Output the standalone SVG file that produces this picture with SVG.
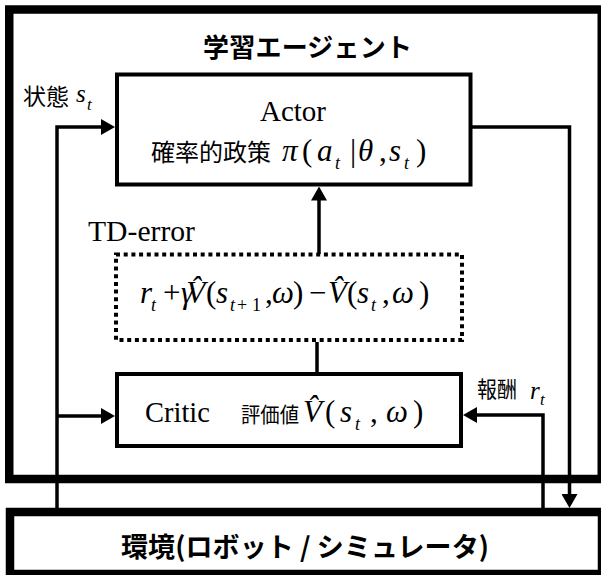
<svg xmlns="http://www.w3.org/2000/svg" width="601" height="575" viewBox="0 0 601 575">
<defs>
<marker id="arr" markerUnits="userSpaceOnUse" markerWidth="14" markerHeight="16" viewBox="0 0 14 16" refX="10" refY="8" orient="auto"><path d="M0,0 L14,8 L0,16 Z" fill="#000"/></marker>
</defs>
<style>
.frame{fill:none;stroke:#000;stroke-width:8.5}
.box{fill:#fff;stroke:#000;stroke-width:4}
.dot{fill:#fff;stroke:#000;stroke-width:4;stroke-dasharray:4 3.7}
.conn{fill:none;stroke:#000;stroke-width:3.5}
.jp{font-family:"Noto Sans CJK JP","Noto Sans",sans-serif;fill:#000}
.jpb{font-family:"Noto Sans CJK JP","Noto Sans",sans-serif;font-weight:700;fill:#000}
.tm{font-family:"Liberation Serif","Times New Roman",serif;fill:#000}
.it{font-style:italic}
.sub{font-size:18px;font-style:italic}
.subu{font-size:18px;font-style:normal}
</style>
<rect width="601" height="575" fill="#fff"/>
<g id="agent">
<rect class="frame" x="9.25" y="9.5" width="592.5" height="469.5"/>
<text class="jpb" x="203" y="57" font-size="26" textLength="209" lengthAdjust="spacing">学習エージェント</text>
</g>
<g id="connectors">
<polyline class="conn" points="57,508 57,127 111,127" marker-end="url(#arr)"/>
<line class="conn" x1="57" y1="416" x2="111" y2="416" marker-end="url(#arr)"/>
<polyline class="conn" points="472,127 569.5,127 569.5,504" marker-end="url(#arr)"/>
<line class="conn" x1="319" y1="254" x2="319" y2="190.5" marker-end="url(#arr)"/>
<line class="conn" x1="317" y1="342" x2="317" y2="373"/>
<polyline class="conn" points="543,508 543,415 467,415" marker-end="url(#arr)"/>
</g>
<g id="environment">
<rect class="frame" x="10" y="512" width="592" height="62" fill="#fff"/>
<text class="jpb" x="121" y="557" font-size="27" textLength="368" lengthAdjust="spacing">環境(ロボット / シミュレータ)</text>
</g>
<g id="actor">
<rect class="box" x="117" y="74.5" width="353.5" height="110"/>
<text class="tm" x="260" y="121" font-size="29">Actor</text>
<text class="jp" x="151" y="161" font-size="24">確率的政策</text>
<text class="tm" y="161" font-size="31"><tspan x="282" class="it">π</tspan><tspan x="302">(</tspan><tspan x="317" class="it">a</tspan><tspan x="335" y="169" class="sub">t</tspan><tspan x="350" y="161">|</tspan><tspan x="358" class="it">θ</tspan><tspan x="379">,</tspan><tspan x="389" class="it">s</tspan><tspan x="404" y="169" class="sub">t</tspan><tspan x="416" y="161">)</tspan></text>
</g>
<g id="td-error">
<text class="tm" x="88" y="240.5" font-size="28.5" textLength="107" lengthAdjust="spacingAndGlyphs">TD-error</text>
<rect class="dot" x="116" y="254.5" width="346" height="85.5"/>
<text class="tm" y="303" font-size="31"><tspan x="140" class="it">r</tspan><tspan x="151" y="311" class="sub">t</tspan><tspan x="163" y="303">+</tspan><tspan x="181" class="it" letter-spacing="-7">γV̂</tspan><tspan x="206">(</tspan><tspan x="216" class="it">s</tspan><tspan x="230" y="311" class="sub">t</tspan><tspan x="237" class="subu">+</tspan><tspan x="252" class="subu">1</tspan><tspan x="265" y="303">,</tspan><tspan x="272" class="it">ω</tspan><tspan x="293">)</tspan><tspan x="309">−</tspan><tspan x="328" class="it">V̂</tspan><tspan x="347">(</tspan><tspan x="357" class="it">s</tspan><tspan x="371" y="311" class="sub">t</tspan><tspan x="382" y="303">,</tspan><tspan x="392" class="it">ω</tspan><tspan x="419">)</tspan></text>
</g>
<g id="critic">
<rect class="box" x="117" y="374" width="344" height="72"/>
<text class="tm" x="145" y="421.7" font-size="28.5">Critic</text>
<text class="jp" x="241" y="421.5" font-size="21" textLength="58" lengthAdjust="spacingAndGlyphs">評価値</text>
<text class="tm" y="421.7" font-size="31"><tspan x="303" class="it">V̂</tspan><tspan x="325">(</tspan><tspan x="340" class="it">s</tspan><tspan x="355" y="429.7" class="sub">t</tspan><tspan x="370" y="421.7">,</tspan><tspan x="386" class="it">ω</tspan><tspan x="413">)</tspan></text>
</g>
<g id="labels">
<text class="jp" x="23" y="104.5" font-size="23">状態</text>
<text class="tm" y="101.7" font-size="25"><tspan x="76" class="it">s</tspan><tspan x="87" y="110" font-size="17" class="it">t</tspan></text>
<text class="jp" x="477" y="397" font-size="22" textLength="40" lengthAdjust="spacingAndGlyphs">報酬</text>
<text class="tm" y="399" font-size="25"><tspan x="530" class="it">r</tspan><tspan x="540" y="405" font-size="17" class="it">t</tspan></text>
</g>
</svg>
